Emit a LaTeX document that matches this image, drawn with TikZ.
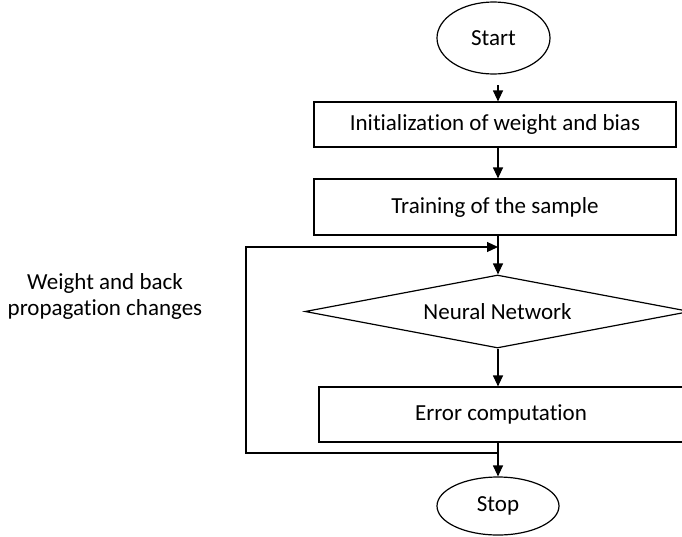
\documentclass[tikz,border=0pt]{standalone}
\usepackage{fontspec}
\setmainfont{Carlito}[Ligatures=NoCommon]
\usetikzlibrary{shapes.geometric,arrows.meta}
\begin{document}
\begin{tikzpicture}[x=1pt,y=-1pt,
  every node/.style={font=\fontsize{23}{26}\selectfont},
  flowline/.style={line width=1.2pt},
  arr/.style={flowline,-{Triangle[length=11pt,width=10pt]}},
  procbox/.style={draw,line width=1.2pt,rectangle,inner sep=0pt},
  termbox/.style={draw,line width=1.2pt,ellipse,inner sep=0pt},
  decbox/.style={draw,line width=1.2pt,diamond,inner sep=0pt,aspect=5.2}]
\useasboundingbox (0,0) rectangle (682,536);
\clip (0,0) rectangle (682,536);
\node[termbox,minimum width=113pt,minimum height=72pt] (start) at (493.5,38) {Start};
\node[procbox,minimum width=362pt,minimum height=45pt] (init) at (495,124.5) {Initialization of weight and bias};
\node[procbox,minimum width=362pt,minimum height=56pt] (train) at (495,207) {Training of the sample};
\node[decbox,minimum width=385pt,minimum height=73pt] (nn) at (497.5,311.5) {Neural Network};
\node[procbox,minimum width=364pt,minimum height=55pt] (err) at (501,414.5) {Error computation};
\node[termbox,minimum width=122pt,minimum height=58pt] (stop) at (498,506) {Stop};
\node[align=center] (lbl) at (105,296.5) {Weight and back\\propagation changes};
\coordinate (s1) at (498,85);
\coordinate (lt) at (246,247);
\coordinate (lb) at (246,453);
\draw[arr] (s1) -- (s1 |- init.north);
\draw[arr] (init.south -| s1) -- (train.north -| s1);
\draw[arr] (train.south -| s1) -- (nn.north -| s1);
\draw[arr] (nn.south -| s1) -- (err.north -| s1);
\draw[arr] (err.south -| s1) -- (stop.north -| s1);
\draw[arr] (lb -| s1) -- (lb) -- (lt) -- (lt -| s1);
\end{tikzpicture}
\end{document}
